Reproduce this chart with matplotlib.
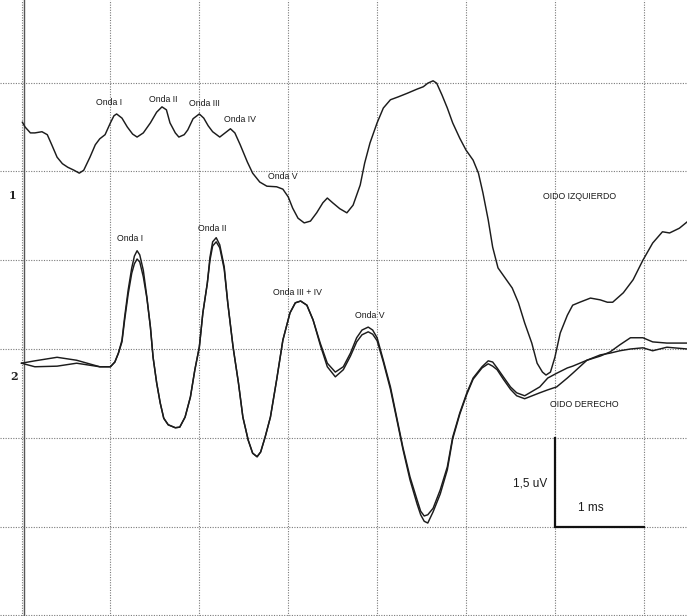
import matplotlib
matplotlib.use("Agg")
import matplotlib.pyplot as plt

plt.rcParams["font.family"] = ["Liberation Sans", "DejaVu Sans"]

# ---- Left ear (OIDO IZQUIERDO): latency in ms, amplitude in uV (plot offset included)
left_t = [0.01, 0.04, 0.10, 0.15, 0.23, 0.29, 0.34, 0.40, 0.46, 0.52,
          0.59, 0.65, 0.70, 0.77, 0.83, 0.88, 0.94, 1.00, 1.04, 1.07,
          1.13, 1.19, 1.25, 1.30, 1.37, 1.45, 1.52, 1.58, 1.63, 1.67,
          1.73, 1.77, 1.83, 1.87, 1.93, 2.00, 2.05, 2.10, 2.15, 2.23,
          2.29, 2.35, 2.40, 2.46, 2.54, 2.60, 2.68, 2.76, 2.87, 2.94,
          3.00, 3.05, 3.11, 3.18, 3.25, 3.32, 3.39, 3.44, 3.50, 3.58,
          3.66, 3.73, 3.81, 3.86, 3.92, 4.00, 4.07, 4.15, 4.24, 4.34,
          4.45, 4.52, 4.57, 4.63, 4.67, 4.73, 4.79, 4.85, 4.93, 5.00,
          5.08, 5.14, 5.19, 5.25, 5.30, 5.36, 5.44, 5.52, 5.59, 5.66,
          5.74, 5.80, 5.86, 5.90, 5.95, 6.00, 6.06, 6.14, 6.20, 6.28,
          6.40, 6.51, 6.59, 6.65, 6.77, 6.88, 6.99, 7.10, 7.21, 7.29,
          7.40, 7.49]
left_uv = [3.83, 3.75, 3.65, 3.65, 3.67, 3.62, 3.45, 3.24, 3.13, 3.07,
           3.02, 2.97, 3.02, 3.24, 3.45, 3.55, 3.62, 3.82, 3.94, 3.97,
           3.90, 3.75, 3.63, 3.58, 3.65, 3.82, 4.00, 4.09, 4.04, 3.82,
           3.65, 3.58, 3.62, 3.70, 3.89, 3.97, 3.90, 3.77, 3.67, 3.58,
           3.65, 3.72, 3.65, 3.45, 3.16, 2.97, 2.82, 2.75, 2.74, 2.70,
           2.57, 2.38, 2.21, 2.13, 2.16, 2.30, 2.47, 2.55, 2.47, 2.37,
           2.30, 2.43, 2.77, 3.14, 3.48, 3.82, 4.07, 4.21, 4.26, 4.32,
           4.39, 4.43, 4.49, 4.53, 4.49, 4.29, 4.07, 3.82, 3.56, 3.36,
           3.19, 2.97, 2.64, 2.18, 1.72, 1.37, 1.20, 1.03, 0.78, 0.44,
           0.10, -0.24, -0.39, -0.44, -0.39, -0.14, 0.27, 0.57, 0.74, 0.79,
           0.86, 0.83, 0.79, 0.79, 0.95, 1.17, 1.50, 1.79, 1.98, 1.96,
           2.04, 2.15]

# ---- Right ear (OIDO DERECHO), two superimposed runs
right_t = [0.00, 0.15, 0.40, 0.62, 0.88, 1.00, 1.05, 1.09, 1.13, 1.16,
           1.20, 1.24, 1.27, 1.30, 1.33, 1.37, 1.41, 1.45, 1.48, 1.52,
           1.56, 1.60, 1.65, 1.73, 1.78, 1.84, 1.90, 1.95, 2.00, 2.04,
           2.09, 2.12, 2.15, 2.19, 2.23, 2.28, 2.32, 2.38, 2.44, 2.49,
           2.55, 2.60, 2.65, 2.69, 2.74, 2.80, 2.87, 2.94, 3.02, 3.08,
           3.14, 3.21, 3.28, 3.36, 3.44, 3.53, 3.62, 3.70, 3.77, 3.83,
           3.90, 3.95, 4.00, 4.07, 4.15, 4.22, 4.29, 4.37, 4.45, 4.49,
           4.53, 4.57, 4.63, 4.71, 4.79, 4.85, 4.93, 5.01, 5.08, 5.18,
           5.25, 5.30, 5.35, 5.42, 5.50, 5.57, 5.66, 5.83, 5.92, 6.02,
           6.14, 6.20, 6.36, 6.51, 6.62, 6.73, 6.85, 6.99, 7.10, 7.26,
           7.49]
right_a_uv = [-0.24, -0.20, -0.14, -0.19, -0.30, -0.30, -0.22, -0.07, 0.15, 0.54,
              1.00, 1.37, 1.57, 1.66, 1.59, 1.33, 0.88, 0.37, -0.14, -0.57,
              -0.91, -1.17, -1.28, -1.33, -1.32, -1.15, -0.81, -0.35, 0.03, 0.61,
              1.11, 1.55, 1.81, 1.88, 1.76, 1.39, 0.78, 0.03, -0.57, -1.15,
              -1.54, -1.76, -1.82, -1.74, -1.49, -1.15, -0.52, 0.15, 0.61, 0.78,
              0.81, 0.74, 0.49, 0.10, -0.24, -0.39, -0.30, -0.07, 0.19, 0.32,
              0.37, 0.32, 0.19, -0.19, -0.64, -1.15, -1.66, -2.16, -2.55, -2.74,
              -2.82, -2.80, -2.69, -2.38, -1.99, -1.49, -1.08, -0.74, -0.49, -0.30,
              -0.20, -0.22, -0.32, -0.47, -0.64, -0.74, -0.79, -0.64, -0.49, -0.41,
              -0.32, -0.29, -0.19, -0.12, -0.05, 0.07, 0.19, 0.19, 0.12, 0.10,
              0.10]
right_b_uv = [-0.24, -0.30, -0.29, -0.24, -0.30, -0.30, -0.22, -0.07, 0.12, 0.49,
              0.93, 1.28, 1.44, 1.52, 1.47, 1.22, 0.86, 0.37, -0.14, -0.57,
              -0.91, -1.17, -1.28, -1.33, -1.32, -1.15, -0.81, -0.35, 0.03, 0.61,
              1.11, 1.50, 1.74, 1.81, 1.71, 1.35, 0.78, 0.03, -0.57, -1.15,
              -1.54, -1.76, -1.82, -1.74, -1.49, -1.15, -0.52, 0.15, 0.61, 0.78,
              0.81, 0.74, 0.49, 0.07, -0.30, -0.47, -0.35, -0.12, 0.12, 0.24,
              0.29, 0.25, 0.14, -0.22, -0.68, -1.18, -1.69, -2.21, -2.62, -2.80,
              -2.91, -2.94, -2.75, -2.45, -2.04, -1.52, -1.10, -0.76, -0.51, -0.32,
              -0.25, -0.29, -0.35, -0.51, -0.68, -0.79, -0.84, -0.74, -0.69, -0.64,
              -0.49, -0.41, -0.19, -0.10, -0.07, -0.03, 0.00, 0.02, -0.03, 0.03,
              0.00]

# ---- Peak annotations: (text, latency ms, amplitude uV)
left_labels = [("Onda I", 0.98, 4.16), ("Onda II", 1.59, 4.22), ("Onda III", 2.06, 4.14),
               ("Onda IV", 2.46, 3.87), ("Onda V", 2.94, 2.91)]
right_labels = [("Onda I", 1.22, 1.87), ("Onda II", 2.15, 2.03), ("Onda III + IV", 3.10, 0.96),
                ("Onda V", 3.92, 0.56)]

# Calibration bar
cal_t0, cal_dt = 6.0, 1.0     # ms
cal_v0, cal_dv = -3.0, 1.5    # uV

fig = plt.figure(figsize=(6.87, 6.16), dpi=100)
ax = fig.add_axes([0, 0, 1, 1])
ax.set_xlim(-0.242, 7.486)
ax.set_ylim(-4.51, 5.895)
ax.axis("off")

# dotted 1 ms x 1.5 uV grid
grid_kw = dict(color="#7a7a7a", lw=0.8, ls=(0, (1, 1.3)), zorder=1)
for k in range(8):
    ax.axvline(k, **grid_kw)
for k in range(-3, 4):
    ax.axhline(k * 1.5, **grid_kw)
ax.axvline(0.03, color="#555555", lw=1.0, zorder=1)

line_kw = dict(color="#1c1c1c", lw=1.05, solid_joinstyle="round", zorder=3)
ax.plot(left_t, left_uv, **line_kw)
ax.plot(right_t, right_a_uv, **line_kw)
ax.plot(right_t, right_b_uv, **line_kw)

for txt, t, v in left_labels + right_labels:
    ax.text(t, v, txt, fontsize=6.3, ha="center", va="center", color="#1a1a1a")

ax.text(6.28, 2.57, "OIDO IZQUIERDO", fontsize=6.3, ha="center", va="center", color="#1a1a1a")
ax.text(6.33, -0.93, "OIDO DERECHO", fontsize=6.3, ha="center", va="center", color="#1a1a1a")

ax.plot([cal_t0, cal_t0, cal_t0 + cal_dt], [cal_v0 + cal_dv, cal_v0, cal_v0],
        color="#111111", lw=1.6, solid_joinstyle="miter", zorder=3)
ax.text(5.72, -2.27, "1,5 uV", fontsize=8.5, ha="center", va="center", color="#1a1a1a")
ax.text(6.40, -2.68, "1 ms", fontsize=8.5, ha="center", va="center", color="#1a1a1a")

ax.text(-0.10, 2.60, "1", fontsize=8, fontweight="bold", family="DejaVu Serif",
        ha="center", va="center", color="#222222")
ax.text(-0.08, -0.46, "2", fontsize=8, fontweight="bold", family="DejaVu Serif",
        ha="center", va="center", color="#222222")

fig.savefig("out.png", dpi=100, facecolor="white")
